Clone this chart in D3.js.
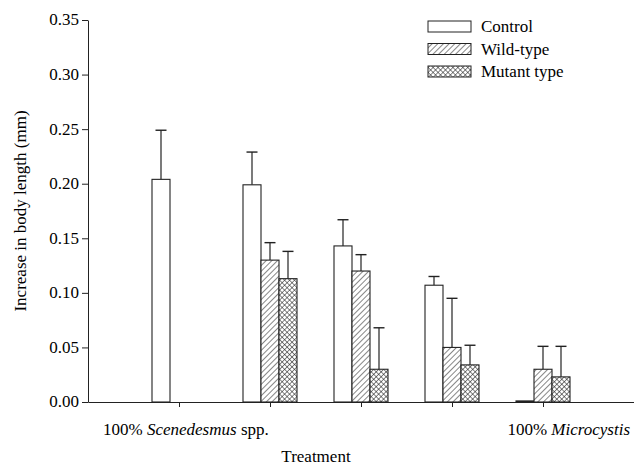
<!DOCTYPE html>
<html><head><meta charset="utf-8">
<script src="https://cdn.jsdelivr.net/npm/d3@7"></script>
</head><body style="margin:0">
<svg id="c" width="634" height="465"></svg>
<script>
const groups = [1, 2, 3, 4, 5];
const seriesNames = ["Control", "Wild-type", "Mutant type"];
const controlMean = [0.204, 0.199, 0.143, 0.107, 0.001];
const controlErr  = [0.249, 0.229, 0.167, 0.115, null];
const wildMean    = [null, 0.130, 0.120, 0.050, 0.030];
const wildErr     = [null, 0.146, 0.135, 0.095, 0.051];
const mutantMean  = [null, 0.113, 0.030, 0.034, 0.023];
const mutantErr   = [null, 0.138, 0.068, 0.052, 0.051];
const yTicks = [0, 0.05, 0.10, 0.15, 0.20, 0.25, 0.30, 0.35];

const FONT = "'Liberation Serif'";
const svg = d3.select("#c");

function txt(xx, yy, size) {
  return svg.append("text").attr("x",xx).attr("y",yy).attr("font-size",size)
    .style("font-family",FONT);
}

const x = d3.scaleLinear().domain([0, 6]).range([88, 634]);
const y = d3.scaleLinear().domain([0, 0.35]).range([402, 20]);
const bw = 18;

// labels first
const t1 = txt(103, 435, 17);
t1.append("tspan").text("100% ");
t1.append("tspan").style("font-style","italic").text("Scenedesmus");
t1.append("tspan").text(" spp.");
const t2 = txt(630, 435, 17).attr("text-anchor","end");
t2.append("tspan").text("100% ");
t2.append("tspan").style("font-style","italic").text("Microcystis");
txt(316, 462, 17).attr("text-anchor","middle").text("Treatment");
svg.append("text").attr("transform","translate(26,211) rotate(-90)").attr("font-size",17)
  .style("font-family",FONT).attr("text-anchor","middle").text("Increase in body length (mm)");

// y tick labels drawn as plain texts from the scale
yTicks.forEach(t => {
  txt(79, y(t), 17).attr("text-anchor","end").attr("dy","0.32em").text(d3.format(".2f")(t));
});

// axes (no d3 text)
const ya = svg.append("g").attr("transform","translate(88,0)")
  .call(d3.axisLeft(y).tickValues(yTicks).tickFormat("").tickSize(6).tickSizeOuter(0));
ya.select(".domain").attr("stroke","#222");
ya.selectAll(".tick line").attr("stroke","#222");
ya.selectAll(".tick text").remove();

const xa = svg.append("g").attr("transform","translate(0,402)")
  .call(d3.axisBottom(x).tickValues(groups).tickFormat("").tickSize(5).tickSizeOuter(0));
xa.select(".domain").attr("stroke","#222");
xa.selectAll(".tick line").attr("stroke","#222");
xa.selectAll(".tick text").remove();

const defs = svg.append("defs");
const p1 = defs.append("pattern").attr("id","hatch").attr("patternUnits","userSpaceOnUse")
  .attr("width",4).attr("height",4).attr("patternTransform","rotate(45)");
p1.append("rect").attr("width",4).attr("height",4).attr("fill","#fff");
p1.append("line").attr("x1",0).attr("y1",0).attr("x2",0).attr("y2",4).attr("stroke","#222").attr("stroke-width",1.1);
const p2 = defs.append("pattern").attr("id","cross").attr("patternUnits","userSpaceOnUse")
  .attr("width",3.5).attr("height",3.5).attr("patternTransform","rotate(45)");
p2.append("rect").attr("width",3.5).attr("height",3.5).attr("fill","#fff");
p2.append("line").attr("x1",0).attr("y1",0).attr("x2",0).attr("y2",3.5).attr("stroke","#222").attr("stroke-width",1.1);
p2.append("line").attr("x1",0).attr("y1",0).attr("x2",3.5).attr("y2",0).attr("stroke","#222").attr("stroke-width",1.1);
const fills = ["#fff","url(#hatch)","url(#cross)"];

const series = [
  {name: seriesNames[0], mean: controlMean, err: controlErr},
  {name: seriesNames[1], mean: wildMean, err: wildErr},
  {name: seriesNames[2], mean: mutantMean, err: mutantErr}
];
series.forEach((s, si) => {
  groups.forEach((g, gi) => {
    const v = s.mean[gi];
    if (v == null) return;
    const cx = x(g) + (si - 1) * bw;
    const e = s.err[gi];
    if (e != null) {
      svg.append("line").attr("x1",cx).attr("x2",cx).attr("y1",y(v)).attr("y2",y(e)).attr("stroke","#222").attr("stroke-width",1.2);
      svg.append("line").attr("x1",cx-5.5).attr("x2",cx+5.5).attr("y1",y(e)).attr("y2",y(e)).attr("stroke","#222").attr("stroke-width",1.4);
    }
    svg.append("rect").attr("x",cx-bw/2).attr("y",y(v)).attr("width",bw).attr("height",y(0)-y(v))
      .attr("fill",fills[si]).attr("stroke","#222").attr("stroke-width",1.1);
  });
});

// legend
seriesNames.forEach((n, i) => {
  const ly = 21 + i * 22.5;
  svg.append("rect").attr("x",428).attr("y",ly).attr("width",43).attr("height",11)
    .attr("fill",fills[i]).attr("stroke","#222").attr("stroke-width",1);
  txt(481, ly+11, 17).text(n);
});
</script>
</body></html>
